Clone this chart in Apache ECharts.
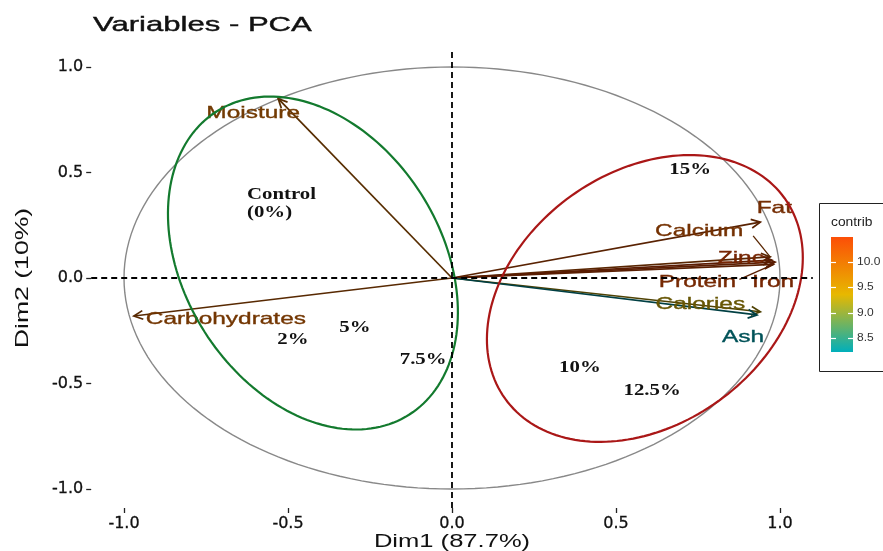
<!DOCTYPE html>
<html><head><meta charset="utf-8">
<script src="https://cdn.jsdelivr.net/npm/echarts@6/dist/echarts.min.js"></script>
<style>html,body{margin:0;padding:0;background:#fff}#c{width:883px;height:551px}</style>
</head><body><div id="c"></div>
<script>
// ---------- data ----------
const variables = ['Moisture','Carbohydrates','Fat','Calcium','Zinc','Protein','Iron','Calories','Ash'];
const dim1 = [-0.53, -0.97, 0.94, 0.97, 0.975, 0.98, 0.985, 0.94, 0.93];
const dim2 = [0.85, -0.18, 0.265, 0.10, 0.085, 0.065, 0.075, -0.16, -0.175];
const contrib = [10.0, 10.1, 10.3, 10.2, 10.49, 10.4, 10.45, 9.3, 8.23];
const xTicks = [-1.0, -0.5, 0.0, 0.5, 1.0];
const yTicks = [-1.0, -0.5, 0.0, 0.5, 1.0];
const legendTicks = [8.5, 9.0, 9.5, 10.0];
const circleCenter = [0, 0];
const circleRadius = 1;
const ellipseGroups = ['Control', 'Treated'];
const ellipseCenterX = [-0.424, 0.588];
const ellipseCenterY = [0.071, -0.097];
const ellipseAxisA = [[-0.294, 0.718], [0.426, 0.475]];
const ellipseAxisB = [[-0.330, -0.327], [-0.2245, 0.486]];
const annotationText = ['Control\n(0%)', '15%', '5%', '2%', '7.5%', '10%', '12.5%'];
const annotationX = [-0.625, 0.726, -0.296, -0.485, -0.088, 0.390, 0.610];
const annotationY = [0.351, 0.512, -0.237, -0.294, -0.389, -0.427, -0.536];

// ---------- layout / style ----------
const labelLayout = {
  Moisture: {dx: -25, dy: 15},
  Carbohydrates: {dx: 92, dy: 3},
  Fat: {dx: 14, dy: -14},
  Calcium: {dx: -71, dy: -25, seg: [54, 4]},
  Zinc: {dx: -31, dy: -2},
  Protein: {dx: -76, dy: 18, seg: [42, -3]},
  Iron: {dx: -2, dy: 20},
  Calories: {dx: -60, dy: -7},
  Ash: {dx: -14, dy: 23}
};
const ellipseColors = ['#137a2e', '#aa1717'];
const gradHex = ['#00AFBB', '#E7B800', '#FC4E07'];

const cMin = Math.min(...contrib), cMax = Math.max(...contrib);
function hexRgb(h){ return [parseInt(h.slice(1,3),16), parseInt(h.slice(3,5),16), parseInt(h.slice(5,7),16)]; }
const gradRgb = gradHex.map(hexRgb);
function gradAt(v){
  let t = (v - cMin) / (cMax - cMin);
  t = Math.max(0, Math.min(1, t));
  let a, b, s;
  if (t <= 0.5){ a = gradRgb[0]; b = gradRgb[1]; s = t / 0.5; }
  else { a = gradRgb[1]; b = gradRgb[2]; s = (t - 0.5) / 0.5; }
  return [0,1,2].map(k => a[k] + (b[k] - a[k]) * s);
}
function shade(rgb, f){ return 'rgb(' + rgb.map(c => Math.round(c * f)).join(',') + ')'; }

const chart = echarts.init(document.getElementById('c'), null, {renderer: 'canvas'});

function renderArrow(params, api){
  const i = params.dataIndex;
  const o = api.coord([0, 0]);
  const e = api.coord([api.value(0), api.value(1)]);
  const base = gradAt(contrib[i]);
  const lineC = shade(base, 0.36);
  const labC = shade(base, 0.47);
  const ang = Math.atan2(e[1] - o[1], e[0] - o[0]);
  const L = 10, w = Math.PI / 7;
  const h1 = [e[0] - L * Math.cos(ang - w), e[1] - L * Math.sin(ang - w)];
  const h2 = [e[0] - L * Math.cos(ang + w), e[1] - L * Math.sin(ang + w)];
  const lay = labelLayout[variables[i]];
  const lx = e[0] + lay.dx, ly = e[1] + lay.dy;
  const children = [
    {type: 'line', shape: {x1: o[0], y1: o[1], x2: e[0], y2: e[1]}, style: {stroke: lineC, lineWidth: 1.7}},
    {type: 'polyline', shape: {points: [h1, e, h2]}, style: {stroke: lineC, lineWidth: 1.7, fill: null}}
  ];
  if (lay.seg){
    children.push({type: 'line', shape: {x1: lx + lay.seg[0], y1: ly + lay.seg[1], x2: e[0], y2: e[1]}, style: {stroke: lineC, lineWidth: 1.3}});
  }
  children.push({type: 'text', x: lx, y: ly, scaleX: 1.48, z2: 10,
    style: {text: variables[i], fill: labC, fontSize: 16.5, fontFamily: 'Liberation Sans', align: 'center', verticalAlign: 'middle',
      stroke: labC, lineWidth: 0.35}});
  return {type: 'group', children: children};
}

function renderCircle(params, api){
  const cx = api.value(0), cy = api.value(1);
  const pts = [];
  for (let d = 0; d <= 360; d += 2){
    const t = d * Math.PI / 180;
    pts.push(api.coord([cx + circleRadius * Math.cos(t), cy + circleRadius * Math.sin(t)]));
  }
  return {type: 'polyline', shape: {points: pts}, style: {stroke: '#888', lineWidth: 1.4, fill: null}};
}

function renderEllipse(params, api){
  const i = params.dataIndex;
  const cx = api.value(0), cy = api.value(1);
  const A = ellipseAxisA[i], B = ellipseAxisB[i];
  const pts = [];
  for (let d = 0; d <= 360; d += 2){
    const t = d * Math.PI / 180;
    pts.push(api.coord([cx + A[0] * Math.cos(t) + B[0] * Math.sin(t), cy + A[1] * Math.cos(t) + B[1] * Math.sin(t)]));
  }
  return {type: 'polyline', shape: {points: pts}, style: {stroke: ellipseColors[i], lineWidth: 2.2, fill: null}};
}

function renderAnnot(params, api){
  const i = params.dataIndex;
  const p = api.coord([api.value(0), api.value(1)]);
  const left = annotationText[i].indexOf('\n') >= 0;
  return {type: 'text', x: p[0], y: p[1], scaleX: 1.3,
    style: {text: annotationText[i], fill: '#111', fontSize: 16, fontWeight: 'bold', fontFamily: 'Liberation Serif',
      align: left ? 'left' : 'center', verticalAlign: 'middle', lineHeight: 18}};
}

// legend geometry
const legBox = {x: 819.5, y: 203.5, w: 100, h: 168};
const bar = {x: 831, y: 237, w: 22, h: 115};
function barY(v){ return bar.y + (cMax - v) / (cMax - cMin) * bar.h; }
const legendGraphics = [
  {type: 'rect', shape: {x: legBox.x, y: legBox.y, width: legBox.w, height: legBox.h}, style: {fill: '#fff', stroke: '#222', lineWidth: 1}},
  {type: 'text', x: 831, y: 223, scaleX: 1.15, style: {text: 'contrib', fontSize: 12, fontFamily: 'Liberation Sans', fill: '#222', align: 'left', verticalAlign: 'middle'}},
  {type: 'rect', shape: {x: bar.x, y: bar.y, width: bar.w, height: bar.h}, style: {
    fill: {type: 'linear', x: 0, y: 0, x2: 0, y2: 1, colorStops: [
      {offset: 0, color: gradHex[2]}, {offset: 0.5, color: gradHex[1]}, {offset: 1, color: gradHex[0]}]}}}
];
legendTicks.forEach(v => {
  const y = Math.round(barY(v)) + 0.5;
  legendGraphics.push({type: 'line', shape: {x1: bar.x, y1: y, x2: bar.x + 5, y2: y}, style: {stroke: '#fff', lineWidth: 1.2}});
  legendGraphics.push({type: 'line', shape: {x1: bar.x + bar.w - 5, y1: y, x2: bar.x + bar.w, y2: y}, style: {stroke: '#fff', lineWidth: 1.2}});
  legendGraphics.push({type: 'text', x: 857, y: y, scaleX: 1.2, style: {text: v.toFixed(1), fontSize: 10, fontFamily: 'Liberation Sans', fill: '#333', align: 'left', verticalAlign: 'middle'}});
});

const option = {
  backgroundColor: '#fff',
  animation: false,
  grid: {left: 91.2, right: 70.2, top: 48, bottom: 43, containLabel: false},
  xAxis: {
    type: 'value', min: -1.1, max: 1.1,
    splitLine: {show: false},
    axisLine: {show: false, onZero: false},
    axisTick: {show: true, length: 5, customValues: xTicks, lineStyle: {color: '#222', width: 1.3}},
    axisLabel: {customValues: xTicks, formatter: v => Number(v).toFixed(1), fontFamily: 'DejaVu Sans', fontSize: 16, color: '#111', margin: 8,
      textBorderColor: '#111', textBorderWidth: 0.3}
  },
  yAxis: {
    type: 'value', min: -1.09, max: 1.09,
    splitLine: {show: false},
    axisLine: {show: false, onZero: false},
    axisTick: {show: true, length: 5, customValues: yTicks, lineStyle: {color: '#222', width: 1.3}},
    axisLabel: {customValues: yTicks, formatter: v => Number(v).toFixed(1), fontFamily: 'DejaVu Sans', fontSize: 16, color: '#111', margin: 8,
      textBorderColor: '#111', textBorderWidth: 0.3}
  },
  graphic: [
    {type: 'text', x: 93, y: 25, scaleX: 1.48, style: {text: 'Variables - PCA', fontSize: 21, fontFamily: 'Liberation Sans', fill: '#111', align: 'left', verticalAlign: 'middle', stroke: '#111', lineWidth: 0.4}},
    {type: 'text', x: 452, y: 542, scaleX: 1.42, style: {text: 'Dim1 (87.7%)', fontSize: 18, fontFamily: 'Liberation Sans', fill: '#111', align: 'center', verticalAlign: 'middle'}},
    {type: 'text', x: 23, y: 278, rotation: Math.PI / 2, scaleX: 1.4, style: {text: 'Dim2 (10%)', fontSize: 19, fontFamily: 'Liberation Sans', fill: '#111', align: 'center', verticalAlign: 'middle'}},
    {type: 'group', children: legendGraphics}
  ],
  series: [
    {type: 'line', data: [], z: 1, silent: true,
      markLine: {silent: true, symbol: ['none', 'none'], label: {show: false},
        lineStyle: {color: '#000', type: [6, 4], width: 1.8},
        data: [{xAxis: 0}, {yAxis: 0}]}},
    {type: 'custom', z: 2, silent: true, renderItem: renderCircle, encode: {x: 0, y: 1}, data: [circleCenter]},
    {type: 'custom', z: 3, silent: true, renderItem: renderArrow, encode: {x: 0, y: 1},
      data: variables.map((v, i) => [dim1[i], dim2[i]])},
    {type: 'custom', z: 4, silent: true, renderItem: renderEllipse, encode: {x: 0, y: 1},
      data: ellipseGroups.map((g, i) => [ellipseCenterX[i], ellipseCenterY[i]])},
    {type: 'custom', z: 5, silent: true, renderItem: renderAnnot, encode: {x: 0, y: 1},
      data: annotationText.map((t, i) => [annotationX[i], annotationY[i]])}
  ]
};
chart.setOption(option);
</script>
</body></html>
